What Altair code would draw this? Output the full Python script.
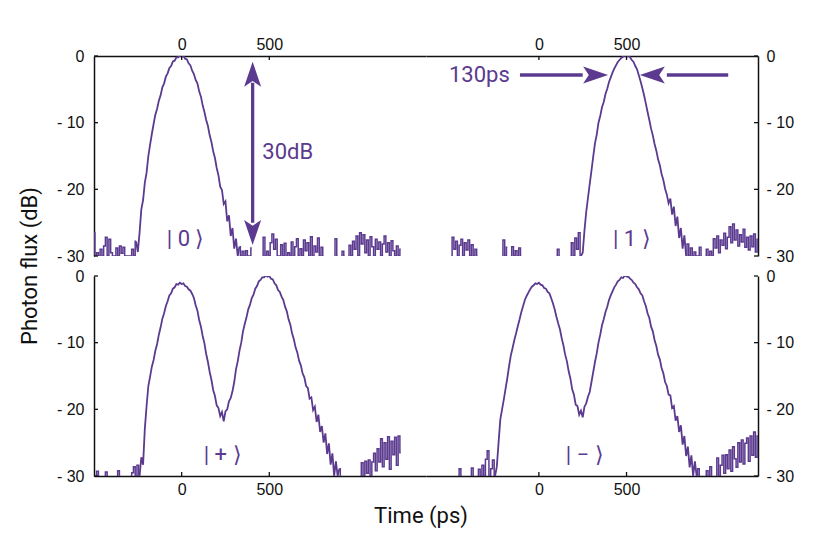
import altair as alt
import pandas as pd

PURPLE = "#5b3a8f"
INK = "#111111"

# time grid of the traces (ps): -500, -490, ..., 1250
T_START, T_STEP = -500, 10

# |0> trace (dB), None = below detection
ket0 = [
    -26.5, -30, -29.5, -30, -29.0, -30, -28.5, -27.2, -30, -27.5, -29.5, -30, -30,
    -28.8, -30, -28.5, -29.6, -28.7, -30, -30, -30, -30, -29.0, -30, -27.8, -29.4,
    -26.5, -23.0, -21.6, -19.0, -17.5, -15.0, -13.3, -11.7, -10.2, -8.8, -7.9, -6.7,
    -5.9, -4.7, -4.1, -3.1, -2.6, -1.8, -1.5, -0.8, -0.7, -0.2, -0.2, 0.1,
    -0.1, 0.0, -0.4, -0.5, -1.1, -1.4, -2.2, -2.7, -3.6, -4.1, -5.3, -6.1, -7.4, -8.4,
    -9.6, -10.5, -11.9, -12.9, -14.3, -15.3, -16.8, -17.9, -19.6, -20.1, -22.2, -21.8,
    -24.8, -23.9, -27.0, -25.8, -28.9, -27.4, -30, -28.6, -30, -29.3,
    -30, -29.2, -30, -30, -28.8, None, None, None, None, None,
    -30, -27.2, -30, -29.3, -30, -28.0, -26.7, -29.0, -27.5, -30, -30, -28.3, -30, -28.1,
    -30, -29.5, -30, -27.9, -30, -28.6, -27.4, -30, -28.9, -30, -27.6, -29.2, -28.0, -30,
    -27.1, -30, -28.5, -29.4, -27.3, -30, -28.7, -30,
    None, None, None, None, None, -30, -27.4, -30, None, -30, -29.3, -30, None,
    -30, -28.4, -30, -27.8, -29.0, -27.0, -30, -26.5, -28.2, -26.8, -29.5, -27.6, -30,
    -27.1, -28.6, -30, -27.5, -29.0, -27.9, -30, -28.2, -27.0, -29.4, -28.0, -30, -27.7,
    -29.2, -30, -28.5, -30, -29.0,
]

# |1> trace (dB)
ket1 = [
    -30, -27.2, -29.0, -27.8, -30, -28.4, -27.5, -30, -28.0, -29.1, -27.6, -30, -28.3,
    -30, -29.0, -30, None, None, None, None, None, None, None, None, None, None, None,
    None, None, -30, -27.6, -30, -28.7, None, -30, -28.6, -30, -29.2, -30, -28.8, -30,
    None, None, None, None, None, None, None, None, None, None, None, None, None, None,
    None, None, None, None, None, -30, -29.0, -30, None, None, None, None, None,
    -30, -28.0, -30, -27.3, -29.0, -26.5, -30,
    -29.5, -26.2, -23.4, -21.3, -19.2, -17.2, -15.1, -13.1, -11.8, -10.0, -9.0, -7.7,
    -6.9, -5.7, -4.9, -3.9, -3.2, -2.5, -1.9, -1.4, -0.9, -0.6, -0.3, -0.1, 0.1, -0.1,
    0.1, -0.2, -0.6, -0.9, -1.5, -2.0, -2.9, -3.8, -4.8, -5.9, -7.1, -8.4, -9.6, -10.9,
    -11.9, -13.2, -14.2, -15.5, -16.4, -17.7, -18.6, -19.9, -20.8, -22.1, -21.4, -23.8,
    -22.6, -25.5, -24.1, -27.3, -25.8, -28.9, -26.9, -30, -28.2,
    -30, -28.8, -30, -29.4, -30, -30, -28.7, -30, None, -30, -29.0, -30, -29.3, -30,
    -27.4, -28.8, -27.0, -29.5, -27.6, -28.4, -26.6, -28.9, -27.2, -25.6, -28.0, -25.2,
    -27.6, -26.1, -28.5, -26.8, -27.9, -26.0, -28.7, -27.2, -29.1, -27.0, -28.6, -26.7,
    -29.4, -27.5,
]

# |+> trace (dB)
ketp = [
    None, -30, -29.3, -30, None, None, -30, -29.4, -30, None, None, None, None,
    -30, -29.2, -30, None, None, None, None, None, -30, -29.5, -28.6, -30, -28.4,
    -30, -27.2, -28.3, -22.9, -19.5, -16.5, -15.1, -13.6, -12.6, -11.2, -10.2, -8.8,
    -7.7, -6.4, -5.6, -4.5, -3.8, -2.9, -2.6, -1.9, -1.7, -1.2, -1.3, -1.0,
    -1.2, -1.1, -1.5, -1.6, -2.0, -2.2, -2.7, -3.3, -4.4, -5.2, -6.6, -7.6, -9.0, -10.1,
    -11.7, -12.9, -14.4, -15.6, -17.1, -18.0, -19.4, -19.8, -21.0, -20.4, -21.8, -20.3,
    -20.0, -18.8, -18.3, -17.3, -15.9, -14.0, -12.8, -11.2, -10.0, -8.3, -7.2, -6.2,
    -5.0, -4.3, -3.3, -2.8, -1.9, -1.5, -0.8, -0.6, -0.2, -0.2, 0.1, -0.1,
    0.0, -0.4, -0.5, -1.1, -1.4, -2.1, -2.4, -3.1, -3.6, -4.6, -5.3, -6.5, -7.3, -8.6,
    -9.5, -10.7, -11.5, -12.7, -13.4, -14.6, -15.2, -16.5, -16.8, -18.4, -18.2, -20.1,
    -19.6, -21.9, -20.8, -23.4, -22.5, -25.0, -23.6, -26.7, -25.1, -28.3, -26.6, -30,
    -27.8, -30, -28.9,
    -30, None, None, None, None, None, None, None, None, None, None,
    -30, -28.0, -30, -27.8, -29.6, -27.6, -30, -27.9, -26.6, -29.2, -25.9, -27.9,
    -24.4, -28.6, -25.0, -27.5, -24.1, -29.0, -24.8, -26.8, -24.2, -28.4, -24.0, -26.5,
]

# |-> trace (dB)
ketm = [
    None, None, None, None, -30, -28.9, -30, None, None, None, None, -30, -28.8,
    -30, None, -30, -29.0, -30, -28.4, -30, -27.5, -26.2, -30, -28.9, -27.6, -30,
    -28.6, -25.0, -21.5, -20.0, -18.5, -16.9, -15.3, -13.5, -11.9, -10.8, -9.6, -8.6,
    -7.5, -6.5, -5.4, -4.5, -3.6, -3.0, -2.5, -2.0, -1.6, -1.4, -1.1, -1.2,
    -1.0, -1.3, -1.4, -1.8, -1.9, -2.4, -2.6, -3.3, -4.1, -5.0, -6.1, -7.1, -8.0, -9.3,
    -10.4, -11.8, -12.8, -14.3, -15.4, -17.0, -17.8, -19.3, -19.5, -20.8, -20.2, -21.2,
    -19.6, -19.1, -18.1, -17.4, -15.9, -14.4, -12.9, -11.6, -10.0, -8.8, -7.4, -6.5,
    -5.4, -4.6, -3.6, -2.9, -2.3, -1.7, -1.3, -0.8, -0.6, -0.2, -0.3, 0.1,
    -0.1, -0.1, -0.4, -0.6, -1.0, -1.2, -1.7, -2.0, -2.6, -2.9, -3.8, -4.5, -5.6, -6.3,
    -7.6, -8.3, -9.6, -10.5, -11.8, -12.5, -13.8, -14.6, -15.9, -16.5, -17.8, -17.9,
    -19.8, -19.5, -21.7, -21.0, -23.4, -22.4, -25.3, -24.0, -27.0, -25.6, -28.7, -26.9,
    -30, -27.8, -30,
    -28.9, -30, None, None, -30, -29.2, -30, -28.6, -30, None,
    -30, -27.3, -30, -28.4, -26.9, -29.6, -26.8, -28.9, -26.1, -29.3, -25.6, -27.4,
    -28.7, -25.0, -27.9, -24.6, -28.2, -25.1, -24.3, -27.8, -24.0, -26.9, -23.4, -27.2,
    -24.0,
]

for s in (ket0, ket1, ketp, ketm):
    assert len(s) == 176, len(s)

# time span (ps) of each pulse; outside it the trace is detector noise floor
PULSE_SPAN = {"ket0": (-260, 330), "ket1": (240, 840), "ketp": (-240, 900), "ketm": (-250, 900)}

X_TICKS = [0, 500]
Y_TICKS = [0, -10, -20, -30]
X_DOM_LEFT = [-500, 1394]
X_DOM_RIGHT = [-644, 1250]
Y_DOM = [-30, 0]

# annotations
ARROW_V = {"t": [405], "top": [-0.85], "bot": [-28.35], "s_top": [-4.0], "s_bot": [-25.0]}
TXT_30DB = {"t": [460], "v": [-15.5], "label": ["30dB"]}
ARROW_H = {"v": -2.85, "tip_r": 395, "shaft_r": [-108, 250], "tip_l": 576, "shaft_l": [730, 1080]}
TXT_130 = {"t": [-513], "v": [-3.85], "label": ["130ps"]}
KETS = {
    "tl": (23, -27.5, "| 0 \u27e9"),
    "tr": (530, -27.5, "| 1 \u27e9"),
    "bl": (234, -26.9, "| + \u27e9"),
    "br": (261, -26.9, "| \u2212 \u27e9"),
}

W, H = 332, 200
HEAD = "M0,0L0.68,2L0,1.55L-0.68,2Z"


def to_frames(vals, span):
    lo, hi = span
    pulse, noise = [], []
    seg, gap = 0, True
    for i, v in enumerate(vals):
        t = T_START + T_STEP * i
        if v is None:
            gap = True
            continue
        if gap:
            seg += 1
            gap = False
        if lo <= t <= hi:
            pulse.append({"t": t, "v": v, "seg": seg})
        if t <= lo:
            noise.append({"t": t, "v": v, "seg": seg * 10})
        if t >= hi:
            noise.append({"t": t, "v": v, "seg": seg * 10 + 1})
    return pd.DataFrame(pulse), pd.DataFrame(noise)


def make_panel(name, vals, xdom, xorient, yorient, ket, extra_layers=()):
    xenc = alt.X(
        "t:Q",
        scale=alt.Scale(domain=xdom, nice=False, zero=False),
        axis=alt.Axis(
            orient=xorient, values=X_TICKS, ticks=False, grid=False, title=None,
            labelPadding=4 if xorient == "top" else 5, labelFont="Liberation Sans",
            labelFontSize=16, labelColor=INK, domainColor=INK, domainWidth=1.5,
            labelFlush=False,
        ),
    )
    yenc = alt.Y(
        "v:Q",
        scale=alt.Scale(domain=Y_DOM, nice=False, zero=False),
        axis=alt.Axis(
            orient=yorient, values=Y_TICKS, ticks=False, grid=False, title=None,
            labelExpr="datum.value == 0 ? '0' : '- ' + abs(datum.value)",
            labelPadding=10 if yorient == "left" else 8, labelFont="Liberation Sans",
            labelFontSize=16, labelColor=INK, domainColor=INK, domainWidth=1.5,
        ),
    )
    pulse_df, noise_df = to_frames(vals, PULSE_SPAN[name])
    pulse = alt.Chart(pulse_df).mark_line(
        clip=True, color=PURPLE, strokeWidth=1.8, interpolate="linear"
    ).encode(x=xenc, y=yenc, detail="seg:N")
    noise = alt.Chart(noise_df).mark_line(
        clip=True, color=PURPLE, strokeWidth=1.5, interpolate="step"
    ).encode(x=xenc, y=yenc, detail="seg:N")

    yt = alt.Chart(pd.DataFrame({"v": Y_TICKS})).mark_tick(
        orient="horizontal", size=4, thickness=1.3, color=INK, opacity=1
    ).encode(y=yenc, x=alt.value(2 if yorient == "left" else W - 2))
    xt = alt.Chart(pd.DataFrame({"t": X_TICKS})).mark_tick(
        orient="vertical", size=4, thickness=1.3, color=INK, opacity=1
    ).encode(x=xenc, y=alt.value(2 if xorient == "top" else H - 2))

    kt, kv, klab = ket
    ket_txt = alt.Chart(pd.DataFrame({"t": [kt], "v": [kv], "label": [klab]})).mark_text(
        font="Roboto", fontSize=22, color=PURPLE, align="center", baseline="middle",
    ).encode(x=xenc, y=yenc, text="label:N")

    layers = [pulse, noise, yt, xt, ket_txt]
    for mk in extra_layers:
        layers.append(mk(xenc, yenc))
    return alt.layer(*layers).properties(width=W, height=H)


def arrow_30db(xenc, yenc):
    shaft = alt.Chart(pd.DataFrame({"t": ARROW_V["t"], "v": ARROW_V["s_top"], "v2": ARROW_V["s_bot"]})).mark_rule(
        color=PURPLE, strokeWidth=3.3
    ).encode(x=xenc, y=yenc, y2="v2:Q")
    heads = alt.Chart(pd.DataFrame({
        "t": ARROW_V["t"] * 2, "v": ARROW_V["top"] + ARROW_V["bot"], "ang": [0, 180]
    })).mark_point(shape=HEAD, filled=True, size=625, opacity=1, strokeWidth=0, color=PURPLE).encode(
        x=xenc, y=yenc, angle=alt.Angle("ang:Q", scale=None)
    )
    txt = alt.Chart(pd.DataFrame(TXT_30DB)).mark_text(
        font="Roboto", fontSize=22, color=PURPLE, align="left", baseline="alphabetic"
    ).encode(x=xenc, y=yenc, text="label:N")
    return alt.layer(shaft, heads, txt)


def arrow_130(xenc, yenc):
    v = ARROW_H["v"]
    shafts = alt.Chart(pd.DataFrame({
        "t": [ARROW_H["shaft_r"][0], ARROW_H["shaft_l"][0]],
        "t2": [ARROW_H["shaft_r"][1], ARROW_H["shaft_l"][1]],
        "v": [v, v],
    })).mark_rule(color=PURPLE, strokeWidth=3.3).encode(x=xenc, x2="t2:Q", y=yenc)
    heads = alt.Chart(pd.DataFrame({
        "t": [ARROW_H["tip_r"], ARROW_H["tip_l"]], "v": [v, v], "ang": [90, 270]
    })).mark_point(shape=HEAD, filled=True, size=625, opacity=1, strokeWidth=0, color=PURPLE).encode(
        x=xenc, y=yenc, angle=alt.Angle("ang:Q", scale=None)
    )
    txt = alt.Chart(pd.DataFrame(TXT_130)).mark_text(
        font="Roboto", fontSize=22, color=PURPLE, align="left", baseline="alphabetic"
    ).encode(x=xenc, y=yenc, text="label:N")
    return alt.layer(shafts, heads, txt)


def y_title(xenc, yenc):
    return alt.Chart(pd.DataFrame({"label": ["Photon flux (dB)"]})).mark_text(
        font="Roboto", fontSize=22, color=INK, angle=270, align="center", baseline="middle"
    ).encode(x=alt.value(-64), y=alt.value(210), text="label:N")


def x_title(xenc, yenc):
    return alt.Chart(pd.DataFrame({"label": ["Time (ps)"]})).mark_text(
        font="Roboto", fontSize=22, color=INK, align="center", baseline="middle"
    ).encode(x=alt.value(327), y=alt.value(240), text="label:N")


tl = make_panel("ket0", ket0, X_DOM_LEFT, "top", "left", KETS["tl"], [arrow_30db, y_title])
tr = make_panel("ket1", ket1, X_DOM_RIGHT, "top", "right", KETS["tr"], [arrow_130])
bl = make_panel("ketp", ketp, X_DOM_LEFT, "bottom", "left", KETS["bl"], [x_title])
br = make_panel("ketm", ketm, X_DOM_RIGHT, "bottom", "right", KETS["br"])

chart = alt.concat(
    tl, tr, bl, br, columns=2, spacing={"row": 20, "column": 0}, bounds="flush"
).properties(
    padding={"left": 11, "top": 28, "right": 5, "bottom": 5}
).configure(background="white", view=alt.ViewConfig(stroke=None))

chart.save("out.html", embed_options={"renderer": "svg", "actions": False})
